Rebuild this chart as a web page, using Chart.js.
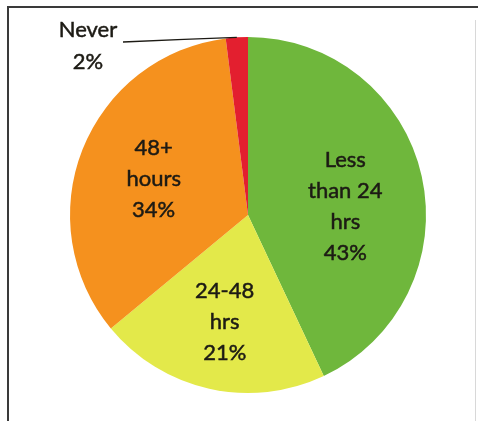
<!DOCTYPE html>
<html>
<head>
<meta charset="utf-8">
<script src="https://cdn.jsdelivr.net/npm/chart.js@4.4.1/dist/chart.umd.min.js"></script>
<style>
  html, body { margin: 0; padding: 0; background: #ffffff; }
  #wrap { position: relative; width: 478px; height: 421px; }
</style>
</head>
<body>
<div id="wrap"><canvas id="pie" width="478" height="421"></canvas></div>
<script>
// Response time categories and their shares (percent)
const categories = ['Less than 24 hrs', '24-48 hrs', '48+ hours', 'Never'];
const shares = [43, 21, 34, 2];
// Label lines drawn for each slice
const labelLines = [
  ['Less', 'than 24', 'hrs', '43%'],
  ['24-48', 'hrs', '21%'],
  ['48+', 'hours', '34%'],
  ['Never', '2%']
];
const sliceColors = ['#6fb73c', '#e3e94a', '#f5911e', '#e31f2f'];

const FONT = '22px Lato, "Open Sans", "Liberation Sans", sans-serif';
const LINE_H = 31;

// Outer frame around the figure
const framePlugin = {
  id: 'frame',
  beforeDraw(chart) {
    const ctx = chart.ctx;
    ctx.save();
    ctx.fillStyle = '#ffffff';
    ctx.fillRect(0, 0, chart.width, chart.height);
    ctx.strokeStyle = '#3a3a3a';
    ctx.lineWidth = 2;
    ctx.beginPath();
    ctx.moveTo(8, chart.height);
    ctx.lineTo(8, 7);
    ctx.lineTo(chart.width, 7);
    ctx.stroke();
    ctx.strokeStyle = '#d8d8d8';
    ctx.lineWidth = 1;
    ctx.beginPath();
    ctx.moveTo(475.5, 20);
    ctx.lineTo(475.5, chart.height);
    ctx.stroke();
    ctx.restore();
  }
};

function drawText(ctx, t, x, y) {
  ctx.strokeText(t, x, y);
  ctx.fillText(t, x, y);
}

// Text inside slices, plus the outside label with a leader line for the small slice
const sliceLabelPlugin = {
  id: 'sliceLabels',
  afterDatasetsDraw(chart) {
    const ctx = chart.ctx;
    const meta = chart.getDatasetMeta(0);
    ctx.save();
    ctx.font = FONT;
    ctx.fillStyle = '#1c1a14';
    ctx.strokeStyle = '#1c1a14';
    ctx.lineWidth = 0.5;
    ctx.textAlign = 'center';
    ctx.textBaseline = 'middle';
    const radialFactor = [0.56, 0.6, 0.57];
    const shiftY = [13, 3, 1];
    meta.data.forEach((arc, i) => {
      const p = arc.getProps(['x', 'y', 'startAngle', 'endAngle', 'outerRadius']);
      const mid = (p.startAngle + p.endAngle) / 2;
      const lines = labelLines[i];
      if (i < 3) {
        const r = p.outerRadius * radialFactor[i];
        const cx = p.x + Math.cos(mid) * r;
        const cy = p.y + Math.sin(mid) * r + shiftY[i];
        const top = cy - (lines.length - 1) * LINE_H / 2;
        lines.forEach((t, k) => drawText(ctx, t, cx, top + k * LINE_H));
      } else {
        // small slice: label sits outside to the upper left
        const lx = p.x - 160, ly = p.y - 185;
        drawText(ctx, lines[0], lx, ly);
        drawText(ctx, lines[1], lx, ly + LINE_H + 1);
        const ex = p.x + Math.cos(mid) * p.outerRadius;
        const ey = p.y + Math.sin(mid) * p.outerRadius;
        ctx.lineWidth = 1.3;
        ctx.beginPath();
        ctx.moveTo(lx + 35, ly + 12);
        ctx.quadraticCurveTo((lx + 35 + ex) / 2, ey + 2, ex, ey);
        ctx.stroke();
      }
    });
    ctx.restore();
  }
};

new Chart(document.getElementById('pie'), {
  type: 'pie',
  data: {
    labels: categories,
    datasets: [{
      data: shares,
      backgroundColor: sliceColors,
      borderWidth: 0
    }]
  },
  options: {
    responsive: false,
    animation: false,
    layout: { padding: { top: 37, bottom: 28, left: 70, right: 52 } },
    plugins: {
      legend: { display: false },
      tooltip: { enabled: false }
    }
  },
  plugins: [framePlugin, sliceLabelPlugin]
});
</script>
</body>
</html>
